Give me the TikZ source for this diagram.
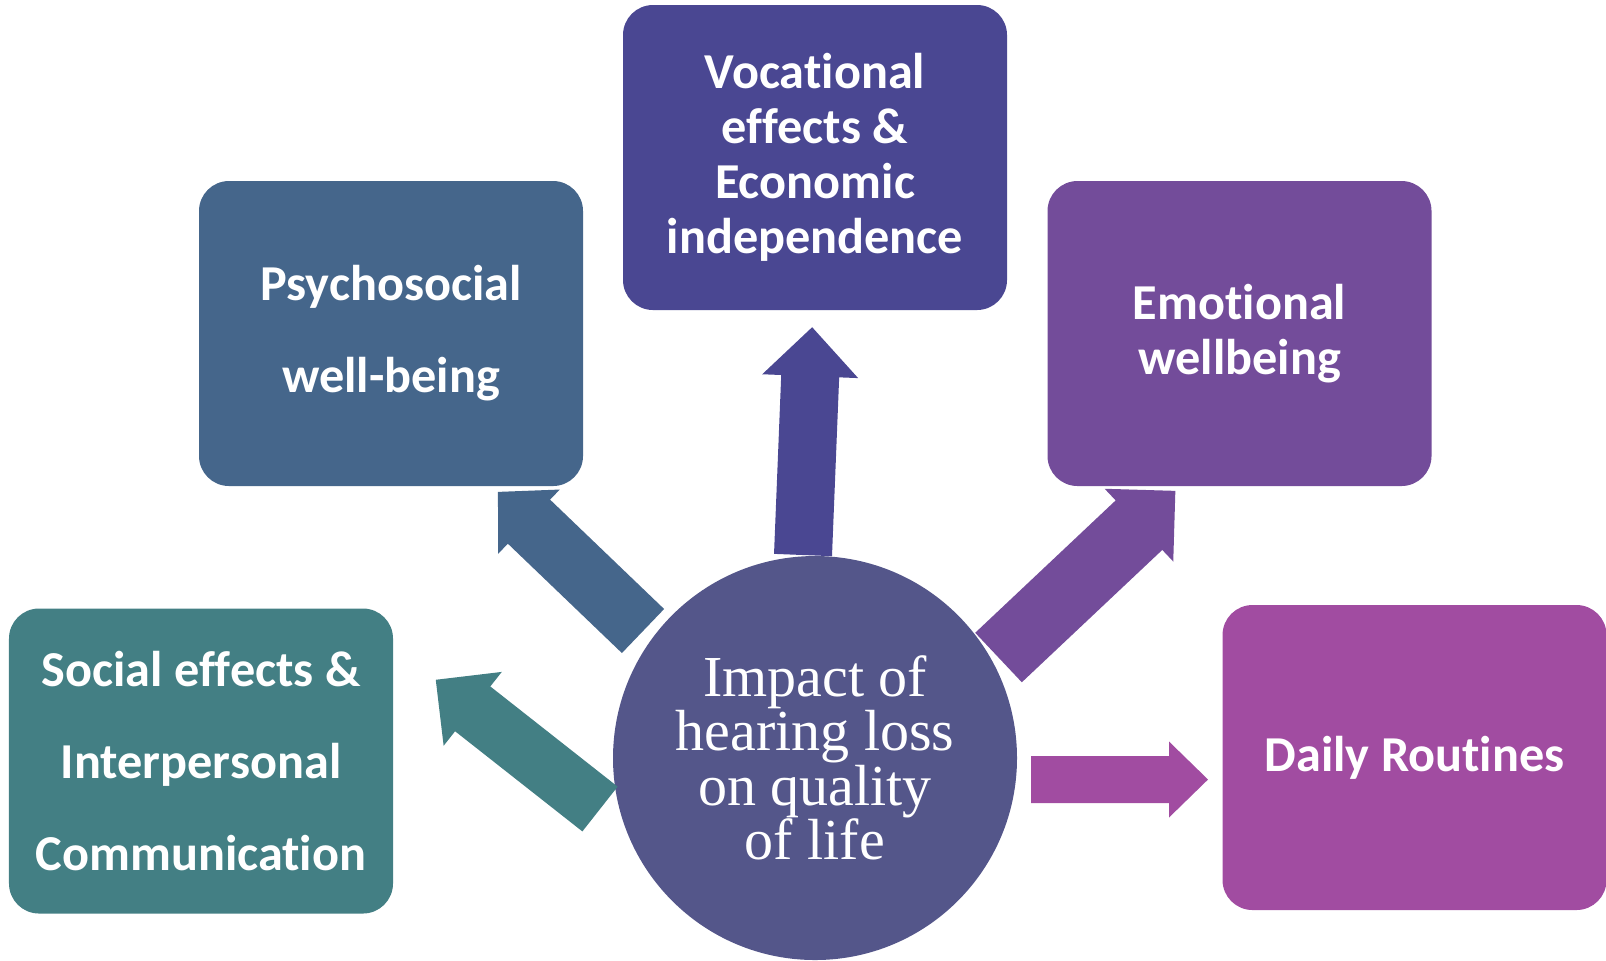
\documentclass[tikz,border=0pt]{standalone}
\usepackage{fontspec}
\setmainfont{Liberation Serif}
\newfontfamily\topicfont[Ligatures=NoCommon]{Carlito}

\definecolor{socialc}{HTML}{437F84}
\definecolor{psychc}{HTML}{45668B}
\definecolor{vocc}{HTML}{4A4792}
\definecolor{emoc}{HTML}{734C9A}
\definecolor{dailyc}{HTML}{A14CA1}
\definecolor{hubc}{HTML}{54568A}

% block arrow: tail, angle, length, shaft width, head width, head length, colour
\newcommand{\fatarrow}[7]{%
  \fill[#7, shift={#1}, rotate=#2]
    (0,{-#4/2}) -- ({#3-#6},{-#4/2}) -- ({#3-#6},{-#5/2}) -- (#3,0)
    -- ({#3-#6},{#5/2}) -- ({#3-#6},{#4/2}) -- (0,{#4/2}) -- cycle;}

\begin{document}
\begin{tikzpicture}[
    topic/.style={rounded corners=0.3cm, minimum width=3.84cm, minimum height=3.05cm,
      inner sep=0pt, text=white, align=center,
      font=\topicfont\bfseries\fontsize{14.3}{15.6}\selectfont},
    loose/.style={font=\topicfont\bfseries\fontsize{14.3}{26.2}\selectfont},
    hub/.style={circle, minimum size=4.04cm, inner sep=0pt, fill=hubc, text=white,
      align=center, font=\fontsize{16.5}{15.5}\selectfont}]
  \useasboundingbox (0,0) rectangle (16.06,-9.60);

  \node[topic, loose, fill=socialc] (social) at (2.01,-7.61)
    {Social effects \&\\Interpersonal\\Communication};
  \node[topic, loose, fill=psychc] (psych) at (3.91,-3.335) {Psychosocial\\well-being};
  \node[topic, fill=vocc] (voc) at (8.15,-1.575)
    {Vocational\\effects \&\\Economic\\independence};
  \node[topic, fill=emoc] (emo) at (12.395,-3.335) {Emotional\\wellbeing};
  \node[topic, fill=dailyc] (daily) at (14.145,-7.575) {Daily Routines};

  \node[hub] (hub) at (8.15,-7.58) {Impact of\\hearing loss\\on quality\\of life};

  \fatarrow{(6.00,-8.09)}{141.8}{2.09}{0.57}{0.94}{0.47}{socialc}
  \fatarrow{(6.43,-6.31)}{136.2}{2.01}{0.61}{0.89}{0.43}{psychc}
  \fatarrow{(8.03,-5.55)}{87.7}{2.28}{0.58}{0.96}{0.49}{vocc}
  \fatarrow{(9.985,-6.575)}{43.3}{2.43}{0.68}{1.00}{0.50}{emoc}
  \fatarrow{(10.31,-7.795)}{0}{1.77}{0.47}{0.76}{0.39}{dailyc}
\end{tikzpicture}
\end{document}
